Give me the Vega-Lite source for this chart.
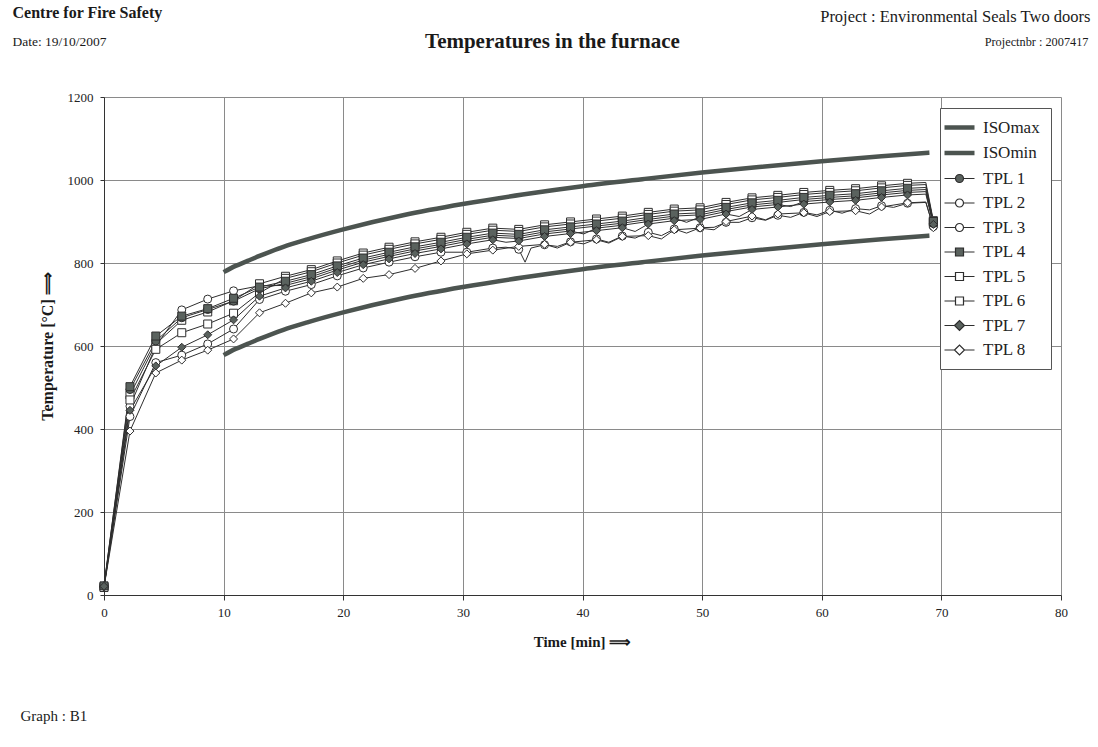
{
  "$schema": "https://vega.github.io/schema/vega-lite/v6.json",
  "width": 957,
  "height": 498,
  "autosize": {"type": "none"},
  "padding": {"left": 104, "top": 97, "right": 37, "bottom": 152},
  "background": "white",
  "config": {
    "view": {"stroke": null},
    "font": "Liberation Serif",
    "axis": {"labelFont": "Liberation Serif", "titleFont": "Liberation Serif", "titleColor": "#1a1a1a", "labelColor": "#222"}
  },
  "datasets": {
    "iso": [
      {"t": 10, "s": "ISOmax", "v": 778}, {"t": 11, "s": "ISOmax", "v": 793}, {"t": 12, "s": "ISOmax", "v": 805}, {"t": 13, "s": "ISOmax", "v": 817},
      {"t": 15, "s": "ISOmax", "v": 839}, {"t": 17, "s": "ISOmax", "v": 857}, {"t": 20, "s": "ISOmax", "v": 881}, {"t": 25, "s": "ISOmax", "v": 915},
      {"t": 30, "s": "ISOmax", "v": 942}, {"t": 35, "s": "ISOmax", "v": 965}, {"t": 40, "s": "ISOmax", "v": 985}, {"t": 45, "s": "ISOmax", "v": 1002},
      {"t": 50, "s": "ISOmax", "v": 1018}, {"t": 55, "s": "ISOmax", "v": 1032}, {"t": 60, "s": "ISOmax", "v": 1045}, {"t": 65, "s": "ISOmax", "v": 1057},
      {"t": 69, "s": "ISOmax", "v": 1066},
      {"t": 10, "s": "ISOmin", "v": 578}, {"t": 11, "s": "ISOmin", "v": 593}, {"t": 12, "s": "ISOmin", "v": 605}, {"t": 13, "s": "ISOmin", "v": 617},
      {"t": 15, "s": "ISOmin", "v": 639}, {"t": 17, "s": "ISOmin", "v": 657}, {"t": 20, "s": "ISOmin", "v": 681}, {"t": 25, "s": "ISOmin", "v": 715},
      {"t": 30, "s": "ISOmin", "v": 742}, {"t": 35, "s": "ISOmin", "v": 765}, {"t": 40, "s": "ISOmin", "v": 785}, {"t": 45, "s": "ISOmin", "v": 802},
      {"t": 50, "s": "ISOmin", "v": 818}, {"t": 55, "s": "ISOmin", "v": 832}, {"t": 60, "s": "ISOmin", "v": 845}, {"t": 65, "s": "ISOmin", "v": 857},
      {"t": 69, "s": "ISOmin", "v": 866}
    ],
    "markers": [
      {"t": 0, "TPL 1": 22, "TPL 2": 20, "TPL 3": 18, "TPL 4": 22, "TPL 5": 20, "TPL 6": 18, "TPL 7": 21, "TPL 8": 19},
      {"t": 2.17, "TPL 1": 495, "TPL 2": 455, "TPL 3": 430, "TPL 4": 502, "TPL 5": 482, "TPL 6": 470, "TPL 7": 445, "TPL 8": 395},
      {"t": 4.33, "TPL 1": 612, "TPL 2": 600, "TPL 3": 560, "TPL 4": 624, "TPL 5": 605, "TPL 6": 592, "TPL 7": 552, "TPL 8": 535},
      {"t": 6.5, "TPL 1": 668, "TPL 2": 687, "TPL 3": 578, "TPL 4": 672, "TPL 5": 662, "TPL 6": 632, "TPL 7": 597, "TPL 8": 566},
      {"t": 8.67, "TPL 1": 688, "TPL 2": 713, "TPL 3": 605, "TPL 4": 690, "TPL 5": 682, "TPL 6": 653, "TPL 7": 627, "TPL 8": 590},
      {"t": 10.83, "TPL 1": 708, "TPL 2": 733, "TPL 3": 641, "TPL 4": 715, "TPL 5": 709, "TPL 6": 679, "TPL 7": 663, "TPL 8": 617},
      {"t": 13, "TPL 1": 738, "TPL 2": 745, "TPL 3": 712, "TPL 4": 742, "TPL 5": 750, "TPL 6": 728, "TPL 7": 720, "TPL 8": 680},
      {"t": 15.17, "TPL 1": 751, "TPL 2": 746, "TPL 3": 732, "TPL 4": 756, "TPL 5": 768, "TPL 6": 763, "TPL 7": 740, "TPL 8": 703},
      {"t": 17.33, "TPL 1": 767, "TPL 2": 762, "TPL 3": 748, "TPL 4": 772, "TPL 5": 784, "TPL 6": 779, "TPL 7": 756, "TPL 8": 728},
      {"t": 19.5, "TPL 1": 788, "TPL 2": 783, "TPL 3": 769, "TPL 4": 793, "TPL 5": 805, "TPL 6": 800, "TPL 7": 777, "TPL 8": 742},
      {"t": 21.67, "TPL 1": 807, "TPL 2": 802, "TPL 3": 788, "TPL 4": 812, "TPL 5": 824, "TPL 6": 819, "TPL 7": 796, "TPL 8": 763},
      {"t": 23.83, "TPL 1": 821, "TPL 2": 816, "TPL 3": 802, "TPL 4": 826, "TPL 5": 838, "TPL 6": 833, "TPL 7": 810, "TPL 8": 772},
      {"t": 26, "TPL 1": 834, "TPL 2": 829, "TPL 3": 815, "TPL 4": 839, "TPL 5": 851, "TPL 6": 846, "TPL 7": 823, "TPL 8": 787},
      {"t": 28.17, "TPL 1": 845, "TPL 2": 840, "TPL 3": 826, "TPL 4": 850, "TPL 5": 862, "TPL 6": 857, "TPL 7": 834, "TPL 8": 805},
      {"t": 30.33, "TPL 1": 857, "TPL 2": 852, "TPL 3": 826, "TPL 4": 862, "TPL 5": 874, "TPL 6": 869, "TPL 7": 846, "TPL 8": 822},
      {"t": 32.5, "TPL 1": 867, "TPL 2": 862, "TPL 3": 836, "TPL 4": 872, "TPL 5": 884, "TPL 6": 879, "TPL 7": 856, "TPL 8": 831},
      {"t": 34.67, "TPL 1": 864, "TPL 2": 859, "TPL 3": 833, "TPL 4": 869, "TPL 5": 881, "TPL 6": 876, "TPL 7": 853, "TPL 8": 840},
      {"t": 36.83, "TPL 1": 875, "TPL 2": 870, "TPL 3": 844, "TPL 4": 880, "TPL 5": 892, "TPL 6": 887, "TPL 7": 864, "TPL 8": 845},
      {"t": 39, "TPL 1": 882, "TPL 2": 877, "TPL 3": 851, "TPL 4": 887, "TPL 5": 899, "TPL 6": 894, "TPL 7": 871, "TPL 8": 850},
      {"t": 41.17, "TPL 1": 889, "TPL 2": 884, "TPL 3": 858, "TPL 4": 894, "TPL 5": 906, "TPL 6": 901, "TPL 7": 878, "TPL 8": 856},
      {"t": 43.33, "TPL 1": 896, "TPL 2": 891, "TPL 3": 865, "TPL 4": 901, "TPL 5": 913, "TPL 6": 908, "TPL 7": 885, "TPL 8": 864},
      {"t": 45.5, "TPL 1": 905, "TPL 2": 900, "TPL 3": 874, "TPL 4": 910, "TPL 5": 922, "TPL 6": 917, "TPL 7": 894, "TPL 8": 866},
      {"t": 47.67, "TPL 1": 913, "TPL 2": 908, "TPL 3": 882, "TPL 4": 918, "TPL 5": 930, "TPL 6": 925, "TPL 7": 902, "TPL 8": 880},
      {"t": 49.83, "TPL 1": 916, "TPL 2": 911, "TPL 3": 885, "TPL 4": 921, "TPL 5": 933, "TPL 6": 928, "TPL 7": 905, "TPL 8": 884},
      {"t": 52, "TPL 1": 929, "TPL 2": 924, "TPL 3": 898, "TPL 4": 934, "TPL 5": 946, "TPL 6": 941, "TPL 7": 918, "TPL 8": 900},
      {"t": 54.17, "TPL 1": 940, "TPL 2": 935, "TPL 3": 909, "TPL 4": 945, "TPL 5": 957, "TPL 6": 952, "TPL 7": 929, "TPL 8": 913},
      {"t": 56.33, "TPL 1": 946, "TPL 2": 941, "TPL 3": 915, "TPL 4": 951, "TPL 5": 963, "TPL 6": 958, "TPL 7": 935, "TPL 8": 918},
      {"t": 58.5, "TPL 1": 953, "TPL 2": 948, "TPL 3": 922, "TPL 4": 958, "TPL 5": 970, "TPL 6": 965, "TPL 7": 942, "TPL 8": 921},
      {"t": 60.67, "TPL 1": 958, "TPL 2": 953, "TPL 3": 927, "TPL 4": 963, "TPL 5": 975, "TPL 6": 970, "TPL 7": 947, "TPL 8": 924},
      {"t": 62.83, "TPL 1": 962, "TPL 2": 957, "TPL 3": 931, "TPL 4": 967, "TPL 5": 979, "TPL 6": 974, "TPL 7": 951, "TPL 8": 926},
      {"t": 65, "TPL 1": 969, "TPL 2": 964, "TPL 3": 938, "TPL 4": 974, "TPL 5": 986, "TPL 6": 981, "TPL 7": 958, "TPL 8": 935},
      {"t": 67.17, "TPL 1": 975, "TPL 2": 970, "TPL 3": 944, "TPL 4": 980, "TPL 5": 992, "TPL 6": 987, "TPL 7": 964, "TPL 8": 945},
      {"t": 69.33, "TPL 1": 895, "TPL 2": 890, "TPL 3": 888, "TPL 4": 900, "TPL 5": 902, "TPL 6": 898, "TPL 7": 893, "TPL 8": 885}
    ],
    "lines": [
      {"t": 0, "TPL 1": 22, "TPL 2": 20, "TPL 3": 18, "TPL 4": 22, "TPL 5": 20, "TPL 6": 18, "TPL 7": 21, "TPL 8": 19},
      {"t": 2.17, "TPL 1": 495, "TPL 2": 455, "TPL 3": 430, "TPL 4": 502, "TPL 5": 482, "TPL 6": 470, "TPL 7": 445, "TPL 8": 395},
      {"t": 4.33, "TPL 1": 612, "TPL 2": 600, "TPL 3": 560, "TPL 4": 624, "TPL 5": 605, "TPL 6": 592, "TPL 7": 552, "TPL 8": 535},
      {"t": 6.5, "TPL 1": 668, "TPL 2": 687, "TPL 3": 578, "TPL 4": 672, "TPL 5": 662, "TPL 6": 632, "TPL 7": 597, "TPL 8": 566},
      {"t": 8.67, "TPL 1": 688, "TPL 2": 713, "TPL 3": 605, "TPL 4": 690, "TPL 5": 682, "TPL 6": 653, "TPL 7": 627, "TPL 8": 590},
      {"t": 10.83, "TPL 1": 708, "TPL 2": 733, "TPL 3": 641, "TPL 4": 715, "TPL 5": 709, "TPL 6": 679, "TPL 7": 663, "TPL 8": 617},
      {"t": 13, "TPL 1": 738, "TPL 2": 745, "TPL 3": 712, "TPL 4": 742, "TPL 5": 750, "TPL 6": 728, "TPL 7": 720, "TPL 8": 680},
      {"t": 15.17, "TPL 1": 751, "TPL 2": 746, "TPL 3": 732, "TPL 4": 756, "TPL 5": 768, "TPL 6": 763, "TPL 7": 740, "TPL 8": 703},
      {"t": 17.33, "TPL 1": 767, "TPL 2": 762, "TPL 3": 748, "TPL 4": 772, "TPL 5": 784, "TPL 6": 779, "TPL 7": 756, "TPL 8": 728},
      {"t": 19.5, "TPL 1": 788, "TPL 2": 783, "TPL 3": 769, "TPL 4": 793, "TPL 5": 805, "TPL 6": 800, "TPL 7": 777, "TPL 8": 742},
      {"t": 21.67, "TPL 1": 807, "TPL 2": 802, "TPL 3": 788, "TPL 4": 812, "TPL 5": 824, "TPL 6": 819, "TPL 7": 796, "TPL 8": 763},
      {"t": 23.83, "TPL 1": 821, "TPL 2": 816, "TPL 3": 802, "TPL 4": 826, "TPL 5": 838, "TPL 6": 833, "TPL 7": 810, "TPL 8": 772},
      {"t": 26, "TPL 1": 834, "TPL 2": 829, "TPL 3": 815, "TPL 4": 839, "TPL 5": 851, "TPL 6": 846, "TPL 7": 823, "TPL 8": 787},
      {"t": 28.17, "TPL 1": 845, "TPL 2": 840, "TPL 3": 826, "TPL 4": 850, "TPL 5": 862, "TPL 6": 857, "TPL 7": 834, "TPL 8": 805},
      {"t": 30.33, "TPL 1": 857, "TPL 2": 852, "TPL 3": 826, "TPL 4": 862, "TPL 5": 874, "TPL 6": 869, "TPL 7": 846, "TPL 8": 822},
      {"t": 32.5, "TPL 1": 867, "TPL 2": 862, "TPL 3": 836, "TPL 4": 872, "TPL 5": 884, "TPL 6": 879, "TPL 7": 856, "TPL 8": 831},
      {"t": 34.67, "TPL 1": 864, "TPL 2": 859, "TPL 3": 833, "TPL 4": 869, "TPL 5": 881, "TPL 6": 876, "TPL 7": 853, "TPL 8": 840},
      {"t": 36.83, "TPL 1": 875, "TPL 2": 870, "TPL 3": 844, "TPL 4": 880, "TPL 5": 892, "TPL 6": 887, "TPL 7": 864, "TPL 8": 845},
      {"t": 39, "TPL 1": 882, "TPL 2": 877, "TPL 3": 851, "TPL 4": 887, "TPL 5": 899, "TPL 6": 894, "TPL 7": 871, "TPL 8": 850},
      {"t": 41.17, "TPL 1": 889, "TPL 2": 884, "TPL 3": 858, "TPL 4": 894, "TPL 5": 906, "TPL 6": 901, "TPL 7": 878, "TPL 8": 856},
      {"t": 43.33, "TPL 1": 896, "TPL 2": 891, "TPL 3": 865, "TPL 4": 901, "TPL 5": 913, "TPL 6": 908, "TPL 7": 885, "TPL 8": 864},
      {"t": 45.5, "TPL 1": 905, "TPL 2": 900, "TPL 3": 874, "TPL 4": 910, "TPL 5": 922, "TPL 6": 917, "TPL 7": 894, "TPL 8": 866},
      {"t": 47.67, "TPL 1": 913, "TPL 2": 908, "TPL 3": 882, "TPL 4": 918, "TPL 5": 930, "TPL 6": 925, "TPL 7": 902, "TPL 8": 880},
      {"t": 49.83, "TPL 1": 916, "TPL 2": 911, "TPL 3": 885, "TPL 4": 921, "TPL 5": 933, "TPL 6": 928, "TPL 7": 905, "TPL 8": 884},
      {"t": 52, "TPL 1": 929, "TPL 2": 924, "TPL 3": 898, "TPL 4": 934, "TPL 5": 946, "TPL 6": 941, "TPL 7": 918, "TPL 8": 900},
      {"t": 54.17, "TPL 1": 940, "TPL 2": 935, "TPL 3": 909, "TPL 4": 945, "TPL 5": 957, "TPL 6": 952, "TPL 7": 929, "TPL 8": 913},
      {"t": 56.33, "TPL 1": 946, "TPL 2": 941, "TPL 3": 915, "TPL 4": 951, "TPL 5": 963, "TPL 6": 958, "TPL 7": 935, "TPL 8": 918},
      {"t": 58.5, "TPL 1": 953, "TPL 2": 948, "TPL 3": 922, "TPL 4": 958, "TPL 5": 970, "TPL 6": 965, "TPL 7": 942, "TPL 8": 921},
      {"t": 60.67, "TPL 1": 958, "TPL 2": 953, "TPL 3": 927, "TPL 4": 963, "TPL 5": 975, "TPL 6": 970, "TPL 7": 947, "TPL 8": 924},
      {"t": 62.83, "TPL 1": 962, "TPL 2": 957, "TPL 3": 931, "TPL 4": 967, "TPL 5": 979, "TPL 6": 974, "TPL 7": 951, "TPL 8": 926},
      {"t": 65, "TPL 1": 969, "TPL 2": 964, "TPL 3": 938, "TPL 4": 974, "TPL 5": 986, "TPL 6": 981, "TPL 7": 958, "TPL 8": 935},
      {"t": 67.17, "TPL 1": 975, "TPL 2": 970, "TPL 3": 944, "TPL 4": 980, "TPL 5": 992, "TPL 6": 987, "TPL 7": 964, "TPL 8": 945},
      {"t": 69.33, "TPL 1": 895, "TPL 2": 890, "TPL 3": 888, "TPL 4": 900, "TPL 5": 902, "TPL 6": 898, "TPL 7": 893, "TPL 8": 885},
      {"t": 33.6, "TPL 3": 838, "TPL 7": 850},
      {"t": 35.2, "TPL 3": 802},
      {"t": 35.7, "TPL 3": 836},
      {"t": 37.9, "TPL 3": 840, "TPL 8": 836},
      {"t": 40.1, "TPL 3": 846, "TPL 2": 870},
      {"t": 42.2, "TPL 3": 850, "TPL 8": 848},
      {"t": 44.4, "TPL 3": 860, "TPL 7": 876},
      {"t": 46.6, "TPL 3": 866, "TPL 8": 858},
      {"t": 48.7, "TPL 3": 872, "TPL 2": 898},
      {"t": 51, "TPL 3": 886, "TPL 8": 880},
      {"t": 53.1, "TPL 3": 898, "TPL 7": 912},
      {"t": 55.3, "TPL 3": 903, "TPL 8": 904},
      {"t": 57.4, "TPL 3": 910, "TPL 2": 936},
      {"t": 59.6, "TPL 3": 916, "TPL 8": 912},
      {"t": 61.7, "TPL 3": 920},
      {"t": 64, "TPL 3": 928, "TPL 8": 918},
      {"t": 66, "TPL 3": 934},
      {"t": 68.7, "TPL 1": 977, "TPL 2": 972, "TPL 3": 946, "TPL 4": 982, "TPL 5": 994, "TPL 6": 989, "TPL 7": 966, "TPL 8": 947}
    ]
  },
  "resolve": {"axis": {"x": "independent", "y": "independent"}},
  "layer": [
    {
      "data": {"name": "iso"},
      "mark": {"type": "line", "strokeWidth": 4.5, "interpolate": "monotone"},
      "encoding": {
        "x": {
          "field": "t", "type": "quantitative",
          "scale": {"domain": [0, 80], "nice": false, "zero": false},
          "axis": {
            "orient": "bottom", "values": [0, 10, 20, 30, 40, 50, 60, 70, 80], "format": "d",
            "grid": true, "gridColor": "#8a8a8a", "gridOpacity": 1, "gridWidth": 1,
            "domainColor": "#333", "tickColor": "#333", "tickSize": 5,
            "labelFontSize": 13, "labelPadding": 6, "labelFlush": false,
            "title": "Time [min] ⟹", "titleFontSize": 15, "titleFontWeight": "bold",
            "titleX": 478, "titleY": 51, "titleAlign": "center", "titleBaseline": "alphabetic"
          }
        },
        "y": {
          "field": "v", "type": "quantitative",
          "scale": {"domain": [0, 1200], "nice": false},
          "axis": {
            "orient": "left", "values": [0, 200, 400, 600, 800, 1000, 1200], "format": "d",
            "grid": true, "gridColor": "#8a8a8a", "gridOpacity": 1, "gridWidth": 1,
            "domainColor": "#333", "tickColor": "#333", "tickSize": 4,
            "labelFontSize": 13, "labelPadding": 7, "labelFlush": false,
            "title": "Temperature [°C] ⟹", "titleFontSize": 16, "titleFontWeight": "bold",
            "titleAngle": -90, "titleX": -57, "titleY": 249, "titleAlign": "center", "titleBaseline": "middle"
          }
        },
        "color": {
          "field": "s", "type": "nominal",
          "scale": {
            "domain": ["ISOmax", "ISOmin", "TPL 1", "TPL 2", "TPL 3", "TPL 4", "TPL 5", "TPL 6", "TPL 7", "TPL 8"],
            "range": ["#4c5450", "#4c5450", "#2e2e2e", "#2e2e2e", "#2e2e2e", "#2e2e2e", "#2e2e2e", "#2e2e2e", "#2e2e2e", "#2e2e2e"]
          },
          "legend": {
            "orient": "none", "legendX": 836, "legendY": 11,
            "title": null,
            "strokeColor": "#555", "fillColor": "white",
            "padding": 11,
            "symbolSize": 400,
            "labelFont": "Liberation Serif", "labelFontSize": 17, "labelColor": "#222",
            "labelOffset": 15, "rowPadding": 6.5,
            "encode": {
              "symbols": {
                "update": {
                  "shape": {"signal": "(datum.value == 'ISOmax' || datum.value == 'ISOmin') ? 'M-1.5,0L1.5,0' : indexof(['TPL 1','TPL 2','TPL 3'], datum.value) >= 0 ? 'M-1.5,0L-0.4,0M0.4,0L1.5,0M0.4,0A0.4,0.4,0,1,1,-0.4,0A0.4,0.4,0,1,1,0.4,0Z' : indexof(['TPL 4','TPL 5','TPL 6'], datum.value) >= 0 ? 'M-1.5,0L-0.4,0M0.4,0L1.5,0M-0.4,-0.4L0.4,-0.4L0.4,0.4L-0.4,0.4Z' : 'M-1.5,0L-0.5,0M0.5,0L1.5,0M-0.5,0L0,-0.5L0.5,0L0,0.5Z'"},
                  "fill": {"signal": "indexof(['TPL 1','TPL 4','TPL 7'], datum.value) >= 0 ? '#5a625e' : ((datum.value == 'ISOmax' || datum.value == 'ISOmin') ? 'transparent' : 'white')"},
                  "stroke": {"signal": "(datum.value == 'ISOmax' || datum.value == 'ISOmin') ? '#4c5450' : '#2e2e2e'"},
                  "strokeWidth": {"signal": "(datum.value == 'ISOmax' || datum.value == 'ISOmin') ? 4.5 : 1.2"},
                  "opacity": {"value": 1}
                }
              }
            }
          }
        }
      }
    },
    {
      "data": {"name": "lines"},
      "transform": [
        {"fold": ["TPL 1", "TPL 2", "TPL 3", "TPL 4", "TPL 5", "TPL 6", "TPL 7", "TPL 8"], "as": ["s", "v"]},
        {"filter": "isValid(datum.v)"}
      ],
      "mark": {"type": "line", "strokeWidth": 1},
      "encoding": {
        "x": {
          "field": "t", "type": "quantitative",
          "axis": {
            "orient": "top", "labels": false, "ticks": false, "domain": false, "grid": false,
            "title": "Temperatures in the furnace", "titleFontSize": 21, "titleFontWeight": "bold",
            "titleAngle": 0, "titleX": 448, "titleY": -50, "titleAlign": "center", "titleBaseline": "alphabetic"
          }
        },
        "y": {
          "field": "v", "type": "quantitative",
          "axis": {
            "orient": "right", "labels": false, "ticks": false, "domain": false, "grid": false,
            "title": "Project : Environmental Seals Two doors", "titleFontSize": 16.5, "titleFontWeight": "normal",
            "titleAngle": 0, "titleX": 29, "titleY": -76, "titleAlign": "right", "titleBaseline": "alphabetic"
          }
        },
        "color": {
          "field": "s", "type": "nominal",
          "scale": {
            "domain": ["ISOmax", "ISOmin", "TPL 1", "TPL 2", "TPL 3", "TPL 4", "TPL 5", "TPL 6", "TPL 7", "TPL 8"],
            "range": ["#4c5450", "#4c5450", "#2e2e2e", "#2e2e2e", "#2e2e2e", "#2e2e2e", "#2e2e2e", "#2e2e2e", "#2e2e2e", "#2e2e2e"]
          }
        }
      }
    },
    {
      "data": {"name": "markers"},
      "transform": [
        {"fold": ["TPL 1", "TPL 2", "TPL 3", "TPL 4", "TPL 5", "TPL 6", "TPL 7", "TPL 8"], "as": ["s", "v"]},
        {"filter": {"field": "s", "oneOf": ["TPL 2", "TPL 3", "TPL 5", "TPL 6", "TPL 8"]}}
      ],
      "mark": {"type": "point", "filled": false, "opacity": 1, "strokeWidth": 1, "size": 64},
      "encoding": {
        "x": {
          "field": "t", "type": "quantitative",
          "axis": {
            "orient": "top", "labels": false, "ticks": false, "domain": false, "grid": false,
            "title": "Centre for Fire Safety", "titleFontSize": 16, "titleFontWeight": "bold",
            "titleAngle": 0, "titleX": -92, "titleY": -80, "titleAlign": "left", "titleBaseline": "alphabetic"
          }
        },
        "y": {
          "field": "v", "type": "quantitative",
          "axis": {
            "orient": "right", "labels": false, "ticks": false, "domain": false, "grid": false,
            "title": "Projectnbr : 2007417", "titleFontSize": 12.3, "titleFontWeight": "normal",
            "titleAngle": 0, "titleX": 27, "titleY": -52, "titleAlign": "right", "titleBaseline": "alphabetic"
          }
        },
        "color": {
          "field": "s", "type": "nominal",
          "scale": {
            "domain": ["ISOmax", "ISOmin", "TPL 1", "TPL 2", "TPL 3", "TPL 4", "TPL 5", "TPL 6", "TPL 7", "TPL 8"],
            "range": ["#4c5450", "#4c5450", "#2e2e2e", "#2e2e2e", "#2e2e2e", "#2e2e2e", "#2e2e2e", "#2e2e2e", "#2e2e2e", "#2e2e2e"]
          }
        },
        "fill": {"value": "white"},
        "shape": {
          "field": "s", "type": "nominal",
          "scale": {
            "domain": ["TPL 1", "TPL 2", "TPL 3", "TPL 4", "TPL 5", "TPL 6", "TPL 7", "TPL 8"],
            "range": ["circle", "circle", "circle", "square", "square", "square", "diamond", "diamond"]
          },
          "legend": null
        }
      }
    },
    {
      "data": {"name": "markers"},
      "transform": [
        {"fold": ["TPL 1", "TPL 2", "TPL 3", "TPL 4", "TPL 5", "TPL 6", "TPL 7", "TPL 8"], "as": ["s", "v"]},
        {"filter": {"field": "s", "oneOf": ["TPL 1", "TPL 4", "TPL 7"]}}
      ],
      "mark": {"type": "point", "filled": false, "opacity": 1, "strokeWidth": 1, "size": 64},
      "encoding": {
        "x": {
          "field": "t", "type": "quantitative",
          "axis": {
            "orient": "bottom", "labels": false, "ticks": false, "domain": false, "grid": false,
            "title": "Graph : B1", "titleFontSize": 15, "titleFontWeight": "normal",
            "titleAngle": 0, "titleX": -84, "titleY": 125, "titleAlign": "left", "titleBaseline": "alphabetic"
          }
        },
        "y": {
          "field": "v", "type": "quantitative",
          "axis": {
            "orient": "left", "labels": false, "ticks": false, "domain": false, "grid": false,
            "title": "Date: 19/10/2007", "titleFontSize": 13.5, "titleFontWeight": "normal",
            "titleAngle": 0, "titleX": -92, "titleY": -52, "titleAlign": "left", "titleBaseline": "alphabetic"
          }
        },
        "color": {
          "field": "s", "type": "nominal",
          "scale": {
            "domain": ["ISOmax", "ISOmin", "TPL 1", "TPL 2", "TPL 3", "TPL 4", "TPL 5", "TPL 6", "TPL 7", "TPL 8"],
            "range": ["#4c5450", "#4c5450", "#2e2e2e", "#2e2e2e", "#2e2e2e", "#2e2e2e", "#2e2e2e", "#2e2e2e", "#2e2e2e", "#2e2e2e"]
          }
        },
        "fill": {"value": "#5a625e"},
        "shape": {
          "field": "s", "type": "nominal",
          "scale": {
            "domain": ["TPL 1", "TPL 2", "TPL 3", "TPL 4", "TPL 5", "TPL 6", "TPL 7", "TPL 8"],
            "range": ["circle", "circle", "circle", "square", "square", "square", "diamond", "diamond"]
          },
          "legend": null
        }
      }
    }
  ]
}
